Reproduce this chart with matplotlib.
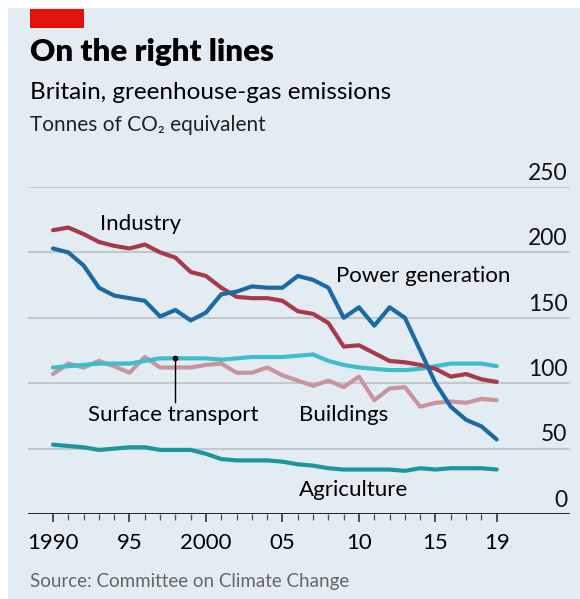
import matplotlib
matplotlib.use("Agg")
import matplotlib.pyplot as plt
import matplotlib.transforms as mtransforms
from matplotlib.patches import Rectangle

years = list(range(1990, 2020))

industry = [217, 219, 214, 208, 205, 203, 206, 200, 196, 185,
            182, 173, 166, 165, 165, 163, 155, 153, 146, 128,
            129, 123, 117, 116, 114, 111, 105, 107, 103, 101]
power = [203, 200, 190, 173, 167, 165, 163, 151, 156, 148,
         154, 168, 170, 174, 173, 173, 182, 179, 173, 150,
         158, 144, 158, 150, 125, 100, 82, 72, 67, 57]
transport = [112, 113, 114, 115, 115, 115, 117, 119, 119, 119,
             119, 118, 119, 120, 120, 120, 121, 122, 117, 114,
             112, 111, 110, 110, 111, 113, 115, 115, 115, 113]
buildings = [107, 115, 112, 117, 113, 108, 120, 112, 112, 112,
             114, 115, 108, 108, 112, 106, 102, 98, 102, 97,
             105, 87, 96, 97, 82, 85, 86, 85, 88, 87]
agriculture = [53, 52, 51, 49, 50, 51, 51, 49, 49, 49,
               46, 42, 41, 41, 41, 40, 38, 37, 35, 34,
               34, 34, 34, 33, 35, 34, 35, 35, 35, 34]

y_ticks = [0, 50, 100, 150, 200, 250]
x_ticks = [1990, 1995, 2000, 2005, 2010, 2015, 2019]
x_tick_labels = ["1990", "95", "2000", "05", "10", "15", "19"]

W, H = 580, 599
plt.rcParams["font.family"] = ["Lato", "DejaVu Sans"]

fig = plt.figure(figsize=(W / 100, H / 100), dpi=100)
fig.patch.set_facecolor("white")
bg = "#e4ecf3"
fig.patches.append(Rectangle((8 / W, 0), 1, 1 - 8 / H, transform=fig.transFigure,
                             facecolor=bg, edgecolor="none", zorder=-2))
fig.patches.append(Rectangle((30 / W, 1 - 28 / H), 54 / W, 19 / H, transform=fig.transFigure,
                             facecolor="#e3120b", edgecolor="none", zorder=-1))

fig.text(30 / W, 1 - 52 / H, "On the right lines", fontsize=22.5, fontweight="heavy",
         va="center", ha="left")
fig.text(30 / W, 1 - 92 / H, "Britain, greenhouse-gas emissions", fontsize=17.5,
         va="center", ha="left")
fig.text(30 / W, 1 - 125 / H, "Tonnes of CO₂ equivalent", fontsize=15,
         va="center", ha="left", color="#222222")
fig.text(30 / W, 1 - 581 / H, "Source: Committee on Climate Change", fontsize=13.5,
         va="center", ha="left", color="#666666")

left, right, bottom, top = 28, 570, 514, 187
ax = fig.add_axes([left / W, 1 - bottom / H, (right - left) / W, (bottom - top) / H])
ax.set_zorder(3)
ax.set_facecolor("none")
ax.set_xlim(1990 - 25 / 15.3, 1990 + (right - 53) / 15.3)
ax.set_ylim(0, 250)
for s in ax.spines.values():
    s.set_visible(False)

for v in y_ticks[1:]:
    ax.axhline(v, color="#c3c8cd", lw=1.5, zorder=1)
ax.axhline(0, color="black", lw=1.2, zorder=5)

trans = mtransforms.blended_transform_factory(ax.transAxes, ax.transData)
for v in y_ticks:
    ax.text(0.995, v + 2.5, str(v), transform=trans, ha="right", va="bottom",
            fontsize=16.5, color="#111111")

style = dict(lw=3.0, solid_capstyle="round", solid_joinstyle="round")
ax.plot(years, agriculture, color="#1c969c", zorder=3, **style)
ax.plot(years, buildings, color="#c8959d", zorder=3, **style)
ax.plot(years, transport, color="#3dbccc", zorder=3, **style)
ax.plot(years, industry, color="#a63a4b", zorder=4, **style)
ax.plot(years, power, color="#1c6aa3", zorder=4, **style)

ax.text(1993.1, 222, "Industry", fontsize=16, va="center", ha="left")
ax.text(2008.5, 182, "Power generation", fontsize=16, va="center", ha="left")
ax.text(1992.3, 76, "Surface transport", fontsize=16, va="center", ha="left")
ax.text(2006.1, 76, "Buildings", fontsize=16, va="center", ha="left")
ax.text(2006.1, 18, "Agriculture", fontsize=16, va="center", ha="left")
ax.plot([1998, 1998], [119, 86], color="black", lw=1, zorder=6)
ax.plot([1998], [119], marker="o", ms=3, color="black", zorder=6)

ax.set_xticks(x_ticks)
ax.set_xticklabels(x_tick_labels, fontsize=16)
ax.set_xticks(years, minor=True)
ax.tick_params(axis="x", which="major", length=6, width=1.2, color="#333333", pad=8)
ax.tick_params(axis="x", which="minor", length=4, width=1, color="#555555")
ax.set_yticks([])

fig.savefig("out.png", dpi=100, facecolor=fig.get_facecolor())
